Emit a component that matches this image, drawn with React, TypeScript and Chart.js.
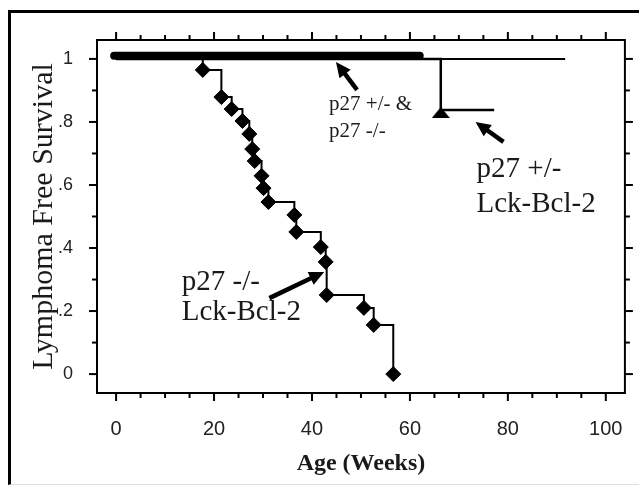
import React, { useEffect, useRef } from 'react';
import { Chart, registerables } from 'chart.js';

Chart.register(...registerables);

// p27 -/- Lck-Bcl-2 (Kaplan-Meier, diamonds)
const weeksKO = [0, 17.7, 21.5, 23.6, 25.8, 27.2, 27.8, 28.3, 29.7, 30.1, 31.1, 36.4, 36.8, 41.8, 42.8, 43.0, 50.6, 52.6, 56.6];
const survivalKO = [1, 0.965, 0.879, 0.841, 0.803, 0.762, 0.714, 0.676, 0.629, 0.59, 0.546, 0.505, 0.451, 0.403, 0.356, 0.251, 0.21, 0.156, 0.0];

// p27 +/- & p27 -/- (thick band of censored marks)
const weeksBand = [-0.4, 62.0];
const survivalBand = [1.01, 1.01];

// p27 +/- (thin line)
const weeksHet = [0, 91.7];
const survivalHet = [1, 1];

// p27 +/- Lck-Bcl-2 (triangle)
const weeksHetBcl = [0, 66.3, 77.2];
const survivalHetBcl = [1, 0.838, 0.838];

const xTickValues = [0, 20, 40, 60, 80, 100];
const xTickLabels = ['0', '20', '40', '60', '80', '100'];
const xMinorTicks = [5, 10, 15, 25, 30, 35, 45, 50, 55, 65, 70, 75, 85, 90, 95];
const yTickValues = [0, 0.2, 0.4, 0.6, 0.8, 1];
const yTickLabels = ['0', '.2', '.4', '.6', '.8', '1'];
const yMinorTicks = [0.1, 0.3, 0.5, 0.7, 0.9];

const noteTexts = [
  { text: 'p27 +/- &', x: 43.5, y: 0.838, size: 21 },
  { text: 'p27 -/-', x: 43.5, y: 0.752, size: 21 },
  { text: 'p27 +/-', x: 73.6, y: 0.625, size: 29 },
  { text: 'Lck-Bcl-2', x: 73.6, y: 0.514, size: 29 },
  { text: 'p27 -/-', x: 13.4, y: 0.267, size: 29 },
  { text: 'Lck-Bcl-2', x: 13.4, y: 0.171, size: 29 },
];

const noteArrows = [
  { fromX: 49.2, fromY: 0.902, toX: 44.9, toY: 0.99 },
  { fromX: 79.1, fromY: 0.737, toX: 73.4, toY: 0.8 },
  { fromX: 31.3, fromY: 0.241, toX: 42.5, toY: 0.324 },
];

const toPoints = (xs: number[], ys: number[]) => xs.map((x, i) => ({ x, y: ys[i] }));

export default function App() {
  const ref = useRef<HTMLCanvasElement | null>(null);

  useEffect(() => {
    if (!ref.current) return;

    const tri = document.createElement('canvas');
    tri.width = 18;
    tri.height = 16;
    const tc = tri.getContext('2d')!;
    tc.fillStyle = '#000';
    tc.beginPath();
    tc.moveTo(9, 5);
    tc.lineTo(18, 16);
    tc.lineTo(0, 16);
    tc.closePath();
    tc.fill();

    const decor = {
      id: 'decor',
      afterDraw(chart: any) {
        const { ctx, chartArea } = chart;
        const xs = chart.scales.x;
        const ys = chart.scales.y;
        const { left, right, top, bottom } = chartArea;
        ctx.save();
        ctx.strokeStyle = '#000';
        ctx.lineWidth = 2;
        ctx.strokeRect(left, top, right - left, bottom - top);
        const tick = (x1: number, y1: number, x2: number, y2: number) => {
          ctx.beginPath();
          ctx.moveTo(x1, y1);
          ctx.lineTo(x2, y2);
          ctx.stroke();
        };
        ctx.lineWidth = 2;
        xTickValues.forEach((v) => {
          const p = xs.getPixelForValue(v);
          tick(p, bottom, p, bottom + 8);
          tick(p, top, p, top - 8);
        });
        xMinorTicks.forEach((v) => {
          const p = xs.getPixelForValue(v);
          tick(p, bottom, p, bottom + 5);
          tick(p, top, p, top - 5);
        });
        yTickValues.forEach((v) => {
          const p = ys.getPixelForValue(v);
          tick(left, p, left - 8, p);
          tick(right, p, right + 8, p);
        });
        yMinorTicks.forEach((v) => {
          const p = ys.getPixelForValue(v);
          tick(left, p, left - 5, p);
          tick(right, p, right + 5, p);
        });

        // arrows
        noteArrows.forEach((a) => {
          const x1 = xs.getPixelForValue(a.fromX);
          const y1 = ys.getPixelForValue(a.fromY);
          const x2 = xs.getPixelForValue(a.toX);
          const y2 = ys.getPixelForValue(a.toY);
          const ang = Math.atan2(y2 - y1, x2 - x1);
          const headLen = 15;
          const headW = 7;
          const bx = x2 - headLen * Math.cos(ang);
          const by = y2 - headLen * Math.sin(ang);
          ctx.lineWidth = 4.5;
          ctx.lineCap = 'butt';
          ctx.beginPath();
          ctx.moveTo(x1, y1);
          ctx.lineTo(bx + 2 * Math.cos(ang), by + 2 * Math.sin(ang));
          ctx.stroke();
          ctx.fillStyle = '#000';
          ctx.beginPath();
          ctx.moveTo(x2, y2);
          ctx.lineTo(bx + headW * Math.sin(ang), by - headW * Math.cos(ang));
          ctx.lineTo(bx - headW * Math.sin(ang), by + headW * Math.cos(ang));
          ctx.closePath();
          ctx.fill();
        });

        // notes
        ctx.fillStyle = '#1a1a1a';
        ctx.textAlign = 'left';
        ctx.textBaseline = 'alphabetic';
        noteTexts.forEach((n) => {
          ctx.font = `${n.size}px "Liberation Serif"`;
          ctx.fillText(n.text, xs.getPixelForValue(n.x), ys.getPixelForValue(n.y));
        });
        ctx.restore();
      },
    };

    const chart = new Chart(ref.current, {
      type: 'scatter',
      data: {
        datasets: [
          {
            label: 'p27 +/-',
            data: toPoints(weeksHet, survivalHet),
            showLine: true,
            borderColor: '#000',
            borderWidth: 2,
            pointRadius: 0,
          },
          {
            label: 'p27 +/- Lck-Bcl-2',
            data: toPoints(weeksHetBcl, survivalHetBcl),
            showLine: true,
            stepped: 'before',
            borderColor: '#000',
            borderWidth: 2.5,
            pointRadius: [0, 9, 0],
            pointStyle: ['circle', tri, 'circle'] as any,
            backgroundColor: '#000',
          },
          {
            label: 'p27 -/- Lck-Bcl-2',
            data: toPoints(weeksKO, survivalKO),
            showLine: true,
            stepped: 'before',
            borderColor: '#000',
            borderWidth: 2,
            pointStyle: 'rectRot',
            pointRadius: weeksKO.map((_, i) => (i === 0 ? 0 : 7.5)),
            pointBackgroundColor: '#000',
            pointBorderColor: '#000',
            pointBorderWidth: 1,
          },
          {
            label: 'p27 +/- & p27 -/-',
            data: toPoints(weeksBand, survivalBand),
            showLine: true,
            borderColor: '#000',
            borderWidth: 8,
            borderCapStyle: 'round',
            pointRadius: 0,
          },
        ],
      },
      options: {
        animation: false,
        responsive: false,
        maintainAspectRatio: false,
        devicePixelRatio: 1,
        layout: { padding: 0 },
        plugins: { legend: { display: false }, tooltip: { enabled: false } },
        scales: {
          x: {
            type: 'linear',
            position: 'bottom',
            min: -3.9,
            max: 103.9,
            grid: { display: false },
            border: { display: false },
            ticks: {
              font: { family: 'Liberation Sans', size: 20 },
              color: '#222',
              padding: 16,
              maxRotation: 0,
              autoSkip: false,
              callback: (v: any) => {
                const i = xTickValues.findIndex((t) => Math.abs(t - v) < 1e-9);
                return i >= 0 ? xTickLabels[i] : '';
              },
            },
            afterBuildTicks: (s: any) => {
              s.ticks = xTickValues.map((v) => ({ value: v }));
            },
            afterFit: (s: any) => {
              s.height = 93;
            },
            title: {
              display: true,
              text: 'Age (Weeks)',
              color: '#1a1a1a',
              font: { family: 'Liberation Serif', size: 24, weight: 'bold' },
              padding: { top: 0, bottom: 8 },
            },
          },
          xTop: {
            type: 'linear',
            axis: 'x',
            position: 'top',
            min: -3.9,
            max: 103.9,
            grid: { display: false },
            border: { display: false },
            ticks: { display: false },
            afterFit: (s: any) => {
              s.height = 40;
            },
          },
          y: {
            type: 'linear',
            position: 'left',
            min: -0.06,
            max: 1.06,
            grid: { display: false },
            border: { display: false },
            ticks: {
              font: { family: 'Liberation Sans', size: 18 },
              color: '#222',
              padding: 16,
              autoSkip: false,
              callback: (v: any) => {
                const i = yTickValues.findIndex((t) => Math.abs(t - v) < 1e-9);
                return i >= 0 ? yTickLabels[i] : '';
              },
            },
            afterBuildTicks: (s: any) => {
              s.ticks = yTickValues.map((v) => ({ value: v }));
            },
            afterFit: (s: any) => {
              s.width = 97;
            },
            title: {
              display: true,
              text: 'Lymphoma Free Survival',
              color: '#1a1a1a',
              font: { family: 'Liberation Serif', size: 30 },
              padding: { top: 26, bottom: 0 },
            },
          },
          yRight: {
            type: 'linear',
            axis: 'y',
            position: 'right',
            min: -0.06,
            max: 1.06,
            grid: { display: false },
            border: { display: false },
            ticks: { display: false },
            afterFit: (s: any) => {
              s.width = 12;
            },
          },
        },
      } as any,
      plugins: [decor],
    });

    return () => chart.destroy();
  }, []);

  return (
    <>
      <div
        style={{
          position: 'fixed',
          left: 8,
          top: 10,
          width: 631,
          height: 475,
          boxSizing: 'border-box',
          borderLeft: '3px solid #000',
          borderTop: '3px solid #000',
          borderBottom: '1px solid #ddd',
        }}
      />
      <canvas
        ref={ref}
        width={639}
        height={486}
        style={{ position: 'fixed', left: 0, top: 0, width: 639, height: 486 }}
      />
    </>
  );
}
